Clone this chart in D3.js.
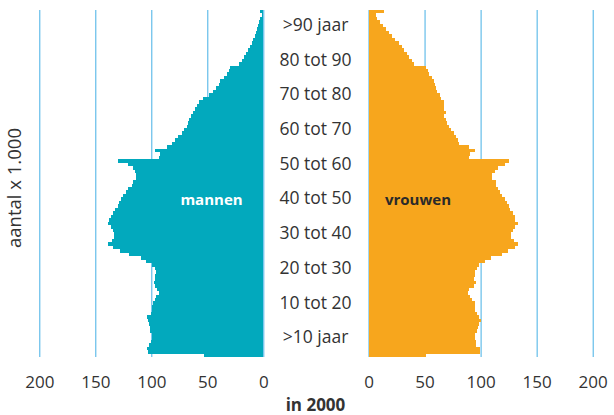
<!DOCTYPE html>
<html>
<head>
<meta charset="utf-8">
<script src="https://cdnjs.cloudflare.com/ajax/libs/d3/7.8.5/d3.min.js"></script>
<style>
  body { margin: 0; background: #fff; }
  svg { display: block; font-family: "Open Sans", sans-serif; }
</style>
</head>
<body>
<svg id="chart" width="614" height="415"></svg>
<script>
// ages 0..99 (99 = oldest bar at the top), values x 1.000
let ages = d3.range(0, 100);

let mannen = [
  53, 103, 103.5, 102.5, 100.5, 99.7, 99.7, 101.5, 101, 102,
  103, 103.5, 100, 99.5, 99.5, 98.5, 97, 95.5, 93, 94.5,
  96.5, 97.5, 96.5, 96.5, 96, 97, 99, 104.8, 109.5, 119.6,
  128, 134.5, 138.4, 135.4, 133.5, 133.5, 134, 136, 138.4, 137.5,
  136, 134.5, 132.4, 129.5, 128.5, 127.4, 125.6, 122.6, 120.5, 117.6,
  116, 113.7, 113.7, 114.6, 116.7, 120.5, 129.5, 93, 92.3, 96.7,
  86, 81.5, 79, 76, 73, 71, 68.5, 67, 66, 65,
  63, 61, 59, 57, 53.6, 48.5, 44.6, 42.3, 40, 38.7,
  35, 32.7, 31, 29.8, 22, 19, 17.3, 15.5, 13.7, 12.2,
  10.4, 8.9, 7.4, 6.5, 5.4, 4.5, 3.6, 2.7, 1.5, 3
];

let vrouwen = [
  51.2, 99.4, 99.4, 95.8, 95.8, 95.2, 95.2, 97, 97.6, 98.8,
  100.3, 98.8, 96.7, 94.6, 94.6, 94.6, 92.3, 90.2, 88.7, 89.6,
  94.3, 95.8, 94, 94.6, 95.2, 96.7, 98.2, 103.6, 109, 119,
  124, 130.4, 133.3, 129.5, 127, 127.4, 128.6, 131, 133.3, 131,
  130.4, 128.9, 126.5, 125, 123.5, 121.4, 119, 117, 115.5, 114,
  113.7, 110, 110.5, 113, 115.5, 121.4, 125, 90, 90.5, 94.6,
  89.6, 81, 80, 78.3, 75.9, 73.8, 71.4, 70, 69, 67.3,
  69, 67.3, 67.3, 67.3, 64.6, 63.7, 61.3, 60, 59, 58,
  57, 54, 52.7, 51, 41, 38.5, 36.5, 34.5, 32, 30,
  27.5, 24, 21, 18.2, 15.5, 12.8, 10, 8, 6.5, 13.7
];

let groupLabels = [">10 jaar", "10 tot 20", "20 tot 30", "30 tot 40", "40 tot 50",
                   "50 tot 60", "60 tot 70", "70 tot 80", "80 tot 90", ">90 jaar"];
let tickValues = [0, 50, 100, 150, 200];

let menColor = "#02a9bd";
let womenColor = "#f7a61d";
let gridColor = "#45b0e5";
let darkTextColor = "#333333";

let svg = d3.select("#chart");

let plotTop = 10, plotBottom = 357;

let y = d3.scaleBand()
  .domain(ages.slice().reverse())
  .range([plotTop, plotBottom])
  .padding(0);

let xMen = d3.scaleLinear().domain([0, 200]).range([263.3, 39.3]);
let xWomen = d3.scaleLinear().domain([0, 200]).range([368.5, 592.7]);

// gridlines + tick labels
function drawAxis(scale) {
  let g = svg.append("g")
    .attr("transform", "translate(0," + plotBottom + ")")
    .call(d3.axisBottom(scale)
      .tickValues(tickValues)
      .tickSize(-(plotBottom - plotTop))
      .tickPadding(19)
      .tickFormat(d3.format("d")));
  g.select(".domain").remove();
  g.selectAll("line").style("stroke", gridColor).style("stroke-width", 1);
  g.selectAll("text")
    .style("fill", darkTextColor)
    .style("font-family", "Open Sans")
    .style("font-size", "17px");
}
drawAxis(xMen);
drawAxis(xWomen);

// men bars
svg.append("g").selectAll("rect")
  .data(ages)
  .enter().append("rect")
  .attr("x", function(d) { return xMen(mannen[d]); })
  .attr("y", function(d) { return y(d); })
  .attr("width", function(d) { return xMen(0) - xMen(mannen[d]); })
  .attr("height", y.bandwidth())
  .attr("fill", menColor)
  .attr("shape-rendering", "crispEdges");

// women bars
svg.append("g").selectAll("rect")
  .data(ages)
  .enter().append("rect")
  .attr("x", xWomen(0))
  .attr("y", function(d) { return y(d); })
  .attr("width", function(d) { return xWomen(vrouwen[d]) - xWomen(0); })
  .attr("height", y.bandwidth())
  .attr("fill", womenColor)
  .attr("shape-rendering", "crispEdges");

// age group labels in the middle
svg.selectAll(".grouplabel")
  .data(groupLabels)
  .enter().append("text")
  .attr("class", "grouplabel")
  .attr("x", 315.5)
  .attr("y", function(d, i) {
    return (y(i * 10) + y(i * 10 + 9) + y.bandwidth()) / 2 - 2.5;
  })
  .attr("dy", "0.35em")
  .text(function(d) { return d; })
  .style("fill", darkTextColor)
  .style("text-anchor", "middle")
  .style("font-size", "17.5px");

// series labels
svg.append("text")
  .attr("x", 211.5)
  .attr("y", 200)
  .attr("dy", "0.35em")
  .text("mannen")
  .style("fill", "#ffffff")
  .style("font-weight", "bold")
  .style("text-anchor", "middle")
  .style("font-size", "15px");

svg.append("text")
  .attr("x", 418)
  .attr("y", 200)
  .attr("dy", "0.35em")
  .text("vrouwen")
  .style("fill", "#2a2a2a")
  .style("font-weight", "bold")
  .style("text-anchor", "middle")
  .style("font-size", "15px");

// y axis title
svg.append("text")
  .attr("transform", "translate(15,188) rotate(-90)")
  .attr("dy", "0.35em")
  .text("aantal x 1.000")
  .style("fill", darkTextColor)
  .style("text-anchor", "middle")
  .style("font-size", "18.5px");

// bottom title
svg.append("text")
  .attr("x", 315.5)
  .attr("y", 405)
  .attr("dy", "0.35em")
  .text("in 2000")
  .style("fill", darkTextColor)
  .style("font-weight", "bold")
  .style("text-anchor", "middle")
  .style("font-size", "17px");
</script>
</body>
</html>
